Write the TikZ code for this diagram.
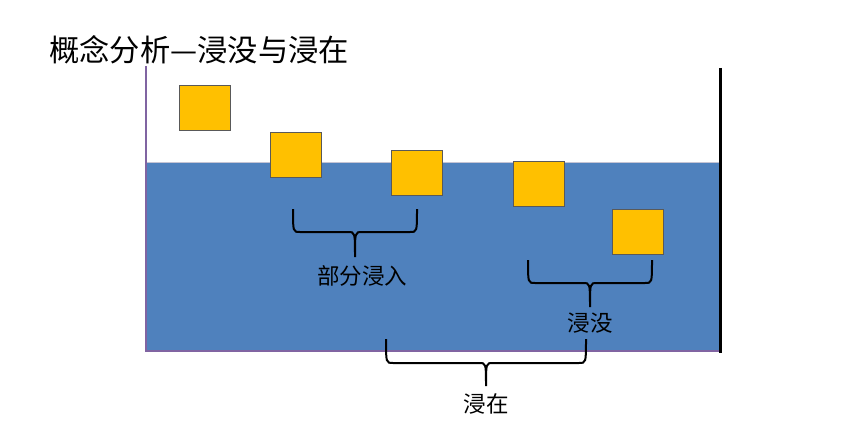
\documentclass[tikz,border=0pt]{standalone}
\usepackage{fontspec}
\setmainfont{Noto Sans CJK SC}
\usetikzlibrary{calc}
\definecolor{water}{HTML}{4F81BD}
\definecolor{wall}{HTML}{8064A2}
\definecolor{gold}{HTML}{FFC000}
\tikzset{
  block/.style={draw=black!65, fill=gold, line width=1pt, anchor=north west,
    minimum width=51pt, minimum height=45pt, inner sep=0},
  brk/.style={black, line width=2pt},
  lbl/.style={font=\fontsize{22.5}{24}\selectfont, inner sep=0}
}
\begin{document}
\begin{tikzpicture}[x=1pt, y=-1pt]
\useasboundingbox (0,0) rectangle (860,444);
\node[anchor=west, inner sep=0, font=\fontsize{30.3}{32}\selectfont] (title) at (49,50) {概念分析—浸没与浸在};
% water and container
\fill[water] (147,162) rectangle (719,350);
\draw[blue!15!gray!40, line width=.8pt] (147,162)--(719,162);
\draw[wall, line width=2.5pt] (146,66)--(146,351)--(719,351);
\draw[black, line width=3pt] (720,68)--(720,353);
\foreach \x/\y [count=\i] in {179/85, 270/132, 391/150, 513/161, 612/209} {
  \node[block] (b\i) at (\x,\y) {};
}
% braces
\foreach \l/\r/\t/\h/\m/\bot [count=\i] in {293/417/209/232/355/257, 528/652/260/283/590/307, 386/586/339/363/486/386} {
  \draw[brk] (\l,\t) .. controls (\l,\h) .. ({\l+7},\h) -- ({\m-7},\h) .. controls (\m,\h) .. (\m,\bot)
    .. controls (\m,\h) .. ({\m+7},\h) -- ({\r-7},\h) .. controls (\r,\h) .. (\r,\t);
  \coordinate (tip\i) at (\m,\bot);
}
\node[lbl, below=8pt] (part) at ($(tip1)+(7,0)$) {部分浸入};
\node[lbl, below=6pt] (sub) at (tip2) {浸没};
\node[lbl, below=7pt] (imm) at (tip3) {浸在};
\end{tikzpicture}
\end{document}
